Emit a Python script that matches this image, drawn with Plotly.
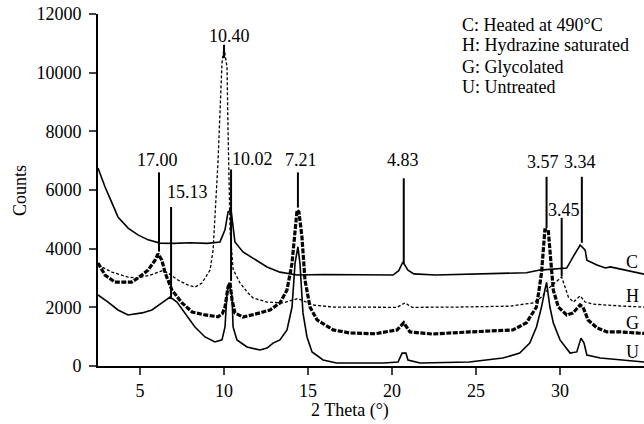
import plotly.graph_objects as go

# ---- data ----
c_x = [2.5, 2.92, 3.33, 3.69, 4.29, 4.88, 5.48, 6.19, 7.0, 8.0, 9.0, 9.76, 10.06, 10.24, 10.42, 10.48, 10.65, 11.13, 11.73, 12.56, 13.33, 14.35, 16.0, 18.0, 20.06, 20.4, 20.65, 20.95, 21.3, 22.6, 24.0, 26.0, 28.0, 28.8, 29.6, 30.4, 30.77, 31.2, 31.5, 31.6, 32.2, 32.7, 33.0, 33.6, 34.3, 35.0]
c_y = [6750, 6100, 5560, 5080, 4700, 4470, 4300, 4190, 4180, 4200, 4180, 4230, 4640, 5250, 5320, 5080, 4230, 3890, 3680, 3375, 3200, 3100, 3120, 3100, 3100, 3250, 3545, 3270, 3140, 3100, 3120, 3130, 3180, 3270, 3300, 3340, 3715, 4125, 3950, 3610, 3440, 3340, 3380, 3300, 3200, 3130]

h_x = [2.5, 3.33, 4.29, 4.88, 5.6, 6.3, 6.67, 7.26, 7.86, 8.27, 8.69, 9.17, 9.35, 9.46, 9.58, 9.64, 9.76, 9.88, 10.0, 10.18, 10.24, 10.3, 10.36, 10.54, 10.95, 11.43, 11.73, 12.56, 13.5, 14.4, 15.3, 16.5, 18.0, 20.3, 20.77, 21.2, 24.0, 27.0, 28.4, 28.9, 29.4, 29.9, 30.1, 30.3, 30.5, 30.8, 31.2, 31.5, 31.96, 33.6, 35.0]
h_y = [3440, 3200, 3030, 3000, 3100, 3240, 3170, 2930, 2760, 2690, 2830, 3270, 3950, 5080, 6240, 6920, 8620, 10330, 10840, 10190, 8045, 5760, 4640, 3300, 2830, 2490, 2320, 2180, 2150, 2300, 2080, 2010, 2000, 2000, 2150, 2000, 2010, 2040, 2150, 2350, 2690, 2930, 3030, 2690, 2350, 2180, 2390, 2180, 2110, 2045, 2010]

g_x = [2.5, 2.92, 3.5, 4.5, 4.88, 5.48, 5.9, 6.07, 6.3, 6.5, 6.9, 7.5, 8.1, 8.87, 9.64, 9.9, 10.06, 10.24, 10.36, 10.48, 10.65, 11.13, 12.14, 12.74, 13.33, 13.75, 14.05, 14.23, 14.35, 14.46, 14.64, 14.82, 15.12, 15.54, 16.5, 17.5, 19.0, 20.3, 20.7, 21.07, 22.4, 24.6, 27.2, 28.0, 28.6, 28.9, 29.1, 29.3, 29.46, 29.6, 29.9, 30.4, 30.77, 31.2, 31.37, 31.67, 32.2, 32.8, 33.6, 35.0]
g_y = [3510, 3100, 2860, 2860, 3000, 3270, 3610, 3820, 3610, 3170, 2590, 2150, 1840, 1740, 1680, 1780, 2010, 2690, 2830, 2250, 1810, 1670, 1810, 1910, 2150, 2590, 3510, 4640, 5320, 5250, 4400, 2930, 2010, 1570, 1230, 1125, 1100, 1230, 1470, 1160, 1090, 1160, 1230, 1470, 2010, 3170, 4640, 4640, 3510, 2590, 2010, 1740, 1810, 2080, 2010, 1570, 1300, 1160, 1160, 1110]

u_x = [2.5, 3.1, 3.69, 4.29, 5.12, 5.71, 6.3, 6.79, 7.2, 7.68, 8.27, 8.87, 9.46, 9.88, 10.06, 10.18, 10.3, 10.48, 10.54, 10.77, 11.37, 12.14, 12.56, 12.92, 13.33, 13.75, 14.05, 14.23, 14.4, 14.52, 14.7, 14.94, 15.24, 15.9, 16.7, 19.5, 20.36, 20.6, 20.83, 20.95, 21.67, 24.6, 26.6, 27.6, 28.2, 28.6, 28.9, 29.1, 29.2, 29.4, 29.6, 30.0, 30.6, 31.0, 31.25, 31.43, 31.6, 32.4, 33.6, 35.0]
u_y = [2420, 2180, 1910, 1740, 1810, 1910, 2150, 2350, 2180, 1810, 1330, 990, 820, 890, 1330, 2490, 2830, 2350, 1330, 890, 650, 545, 610, 780, 890, 1230, 2010, 3510, 4060, 3510, 1810, 990, 480, 205, 100, 100, 136, 440, 440, 205, 100, 136, 270, 440, 780, 1330, 2010, 2590, 2850, 2010, 1470, 890, 440, 480, 950, 780, 375, 270, 205, 136]

peak_labels = ["17.00", "15.13", "10.40", "10.02", "7.21", "4.83", "3.57", "3.34", "3.45"]
peak_x = [6.13, 6.85, 10.0, 10.42, 14.4, 20.7, 29.2, 31.3, 30.1]
peak_top = [6600, 5420, 10950, 6700, 6600, 6400, 6450, 6450, 5050]
peak_bottom = [3900, 2350, 10500, 2900, 5400, 3500, 4700, 4200, 3050]
label_x = [6.07, 7.8, 10.3, 11.67, 14.58, 20.65, 28.99, 31.19, 30.24]
label_y = [7020, 5930, 11250, 7060, 7020, 7020, 6950, 6950, 5320]

curve_tags = ["C", "H", "G", "U"]
tag_y = [3540, 2390, 1470, 480]
legend_lines = ["C: Heated at 490°C", "H: Hydrazine saturated", "G: Glycolated", "U: Untreated"]

x_ticks = [5, 10, 15, 20, 25, 30]
y_ticks = [0, 2000, 4000, 6000, 8000, 10000, 12000]

FONT = "Liberation Serif"
fig = go.Figure()

fig.add_trace(go.Scatter(x=c_x, y=c_y, mode="lines", line=dict(color="black", width=1.6), showlegend=False))
fig.add_trace(go.Scatter(x=h_x, y=h_y, mode="lines", line=dict(color="black", width=1.3, dash="3px,2px"), showlegend=False))
fig.add_trace(go.Scatter(x=g_x, y=g_y, mode="lines", line=dict(color="black", width=3.2, dash="5px,1.5px"), showlegend=False))
fig.add_trace(go.Scatter(x=u_x, y=u_y, mode="lines", line=dict(color="black", width=1.6), showlegend=False))

mx, my = [], []
for xv, t, b in zip(peak_x, peak_top, peak_bottom):
    mx += [xv, xv, None]
    my += [t, b, None]
fig.add_trace(go.Scatter(x=mx, y=my, mode="lines", line=dict(color="black", width=2), showlegend=False))

for txt, xv, yv in zip(peak_labels, label_x, label_y):
    fig.add_annotation(x=xv, y=yv, xref="x", yref="y", text=txt, showarrow=False,
                       font=dict(family=FONT, size=18, color="black"), xanchor="center", yanchor="middle")

for txt, yv in zip(curve_tags, tag_y):
    fig.add_annotation(x=34.3, y=yv, xref="x", yref="y", text=txt, showarrow=False,
                       font=dict(family=FONT, size=18, color="black"), xanchor="center", yanchor="middle")

leg_y = [0.969, 0.912, 0.849, 0.793]
for txt, yv in zip(legend_lines, leg_y):
    fig.add_annotation(x=0.663, y=yv, xref="paper", yref="paper", text=txt, showarrow=False,
                       font=dict(family=FONT, size=18, color="black"), xanchor="left", yanchor="middle")

fig.add_annotation(x=-0.143, y=0.5, xref="paper", yref="paper", text="Counts", textangle=-90,
                   showarrow=False, font=dict(family=FONT, size=18, color="black"), xanchor="center", yanchor="middle")
fig.add_annotation(x=0.4615, y=-0.125, xref="paper", yref="paper", text="2 Theta (°)",
                   showarrow=False, font=dict(family=FONT, size=18, color="black"), xanchor="center", yanchor="middle")

fig.update_layout(
    width=644, height=424,
    margin=dict(l=98, r=0, t=14, b=58, autoexpand=False),
    plot_bgcolor="white", paper_bgcolor="white",
    font=dict(family=FONT, size=18, color="black"),
)
fig.update_xaxes(range=[2.5, 35], tickvals=x_ticks, tickformat="d", ticks="outside", ticklen=7, tickwidth=2,
                 showline=True, linewidth=2, linecolor="black", showgrid=False, zeroline=False, automargin=False,
                 tickfont=dict(family=FONT, size=18, color="black"))
fig.update_yaxes(range=[0, 12000], tickvals=y_ticks, tickformat="d", ticks="outside", ticklen=7, tickwidth=2,
                 showline=True, linewidth=2, linecolor="black", showgrid=False, zeroline=False, automargin=False,
                 tickfont=dict(family=FONT, size=18, color="black"), ticklabelstandoff=4)

fig.write_html("out.html", config={"displayModeBar": False},
               post_script="document.body.style.margin='0';document.body.style.padding='0';")
